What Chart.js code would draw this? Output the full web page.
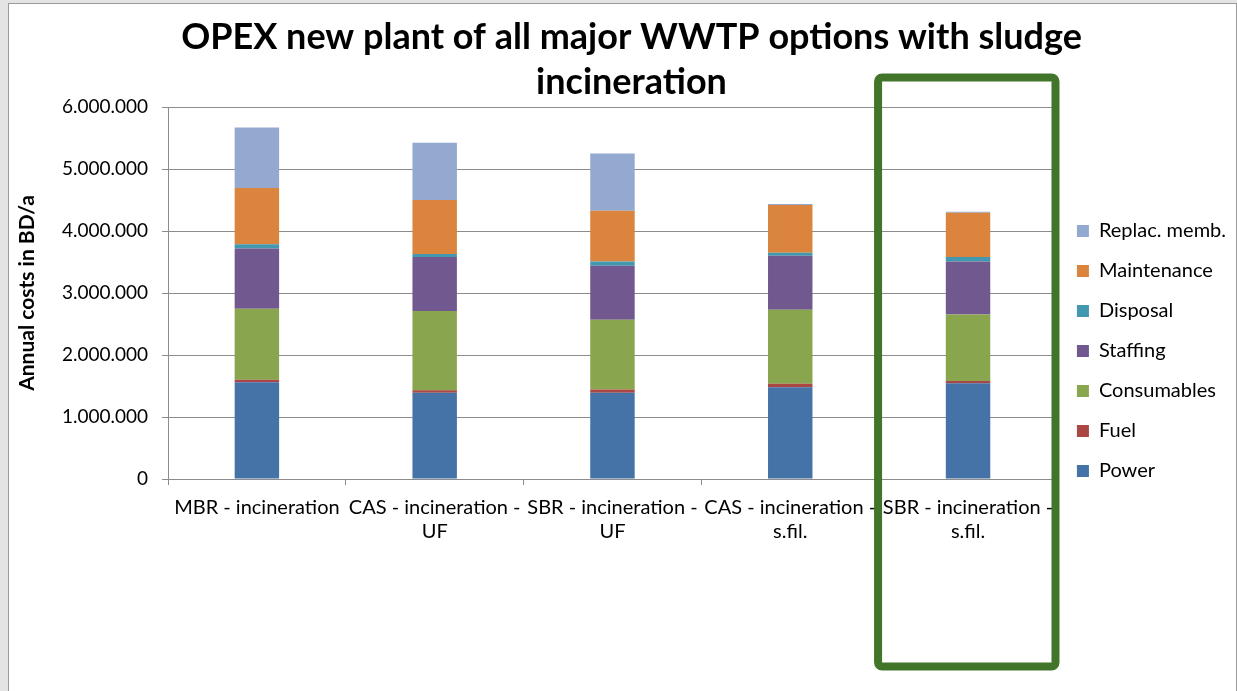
<!DOCTYPE html>
<html>
<head>
<meta charset="utf-8">
<script src="https://cdn.jsdelivr.net/npm/chart.js@4"></script>
<style>
  body { margin: 0; background: #e4e4e4; width: 1237px; height: 691px; overflow: hidden; }
  .frame { position: absolute; left: 8px; top: 3px; width: 1227px; height: 688px; background: #fff;
           border-left: 1px solid #9a9a9a; border-top: 1px solid #9a9a9a; border-right: 1px solid #9a9a9a; }
</style>
</head>
<body>
<div class="frame"><canvas id="opexChart"></canvas></div>
<script>
// categorias y costes (BD/a)
const categorias = [
  "MBR - incineration",
  ["CAS - incineration -", "UF"],
  ["SBR - incineration -", "UF"],
  ["CAS - incineration -", "s.fil."],
  ["SBR - incineration -", "s.fil."],
];
const power       = [1560000, 1390000, 1390000, 1480000, 1545000];
const fuel        = [  40000,   40000,   55000,   55000,   35000];
const consumables = [1145000, 1280000, 1125000, 1195000, 1075000];
const staffing    = [ 973000,  870000,  870000,  870000,  855000];
const disposal    = [  70000,   50000,   70000,   50000,   70000];
const maintenance = [ 904000,  870000,  817000,  770000,  715000];
const replacMemb  = [ 977000,  925000,  925000,   15000,   15000];
const yTicks = [0, 1000000, 2000000, 3000000, 4000000, 5000000, 6000000];

const fmt = (v) => String(v).replace(/\B(?=(\d{3})+(?!\d))/g, ".");

// recuadro verde alrededor de la ultima opcion
const marcoVerde = {
  id: "marcoVerde",
  afterLayout(chart) {
    // subir la leyenda para centrarla como en el original
    chart.legend.top -= 48;
    chart.legend.bottom -= 48;
  },
  afterDraw(chart) {
    const x = chart.scales.x;
    const ancho = x.getPixelForValue(1) - x.getPixelForValue(0);
    const cx = x.getPixelForValue(4);
    const ctx = chart.ctx;
    ctx.save();
    ctx.strokeStyle = "#41762a";
    ctx.lineWidth = 8;
    ctx.lineJoin = "round";
    ctx.beginPath();
    ctx.roundRect(cx - ancho * 0.506, 73.5, ancho * 0.998, 589, 4);
    ctx.stroke();
    ctx.restore();
  },
};

const ds = (label, data, color) => ({ label, data, backgroundColor: color, borderWidth: 0, barPercentage: 1, categoryPercentage: 0.25 });

new Chart(document.getElementById("opexChart"), {
  type: "bar",
  data: {
    labels: categorias,
    datasets: [
      ds("Power", power, "#4572a7"),
      ds("Fuel", fuel, "#aa4643"),
      ds("Consumables", consumables, "#89a54e"),
      ds("Staffing", staffing, "#71588f"),
      ds("Disposal", disposal, "#4198af"),
      ds("Maintenance", maintenance, "#db843d"),
      ds("Replac. memb.", replacMemb, "#93a9cf"),
    ],
  },
  plugins: [marcoVerde],
  options: {
    responsive: true,
    maintainAspectRatio: false,
    animation: false,
    layout: { padding: { left: 18, right: 0, bottom: 143, top: 0 } },
    plugins: {
      title: {
        display: true,
        text: ["OPEX new plant of all major WWTP options with sludge", "incineration"],
        color: "#000",
        font: { family: "Lato", size: 36, weight: "bold", lineHeight: 1.25 },
        padding: { top: 11, bottom: 2 },
      },
      legend: {
        position: "right",
        align: "end",
        reverse: true,
        labels: {
          color: "#000",
          font: { family: "Lato", size: 20 },
          boxWidth: 12,
          boxHeight: 12,
          padding: 20,
        },
      },
      tooltip: { enabled: false },
    },
    scales: {
      x: {
        stacked: true,
        border: { color: "#8c8c8c" },
        grid: { offset: true, drawOnChartArea: false, color: "#8c8c8c", tickLength: 6 },
        ticks: { color: "#000", font: { family: "Lato", size: 20 }, padding: 11, maxRotation: 0, autoSkip: false },
        afterFit: (s) => { s.height = 70; },
      },
      y: {
        stacked: true,
        min: 0,
        max: 6000000,
        afterBuildTicks: (s) => { s.ticks = yTicks.map((v) => ({ value: v })); },
        border: { color: "#8c8c8c" },
        grid: { color: "#8c8c8c", tickLength: 6 },
        ticks: { color: "#000", font: { family: "Lato", size: 19 }, padding: 14, callback: (v) => fmt(v) },
        title: {
          display: true,
          text: "Annual costs in BD/a",
          color: "#000",
          font: { family: "Lato", size: 21, weight: "bold" },
          padding: { top: -12, bottom: 0 },
        },
        afterFit: (s) => { s.width = 141; },
      },
    },
  },
});
</script>
</body>
</html>
